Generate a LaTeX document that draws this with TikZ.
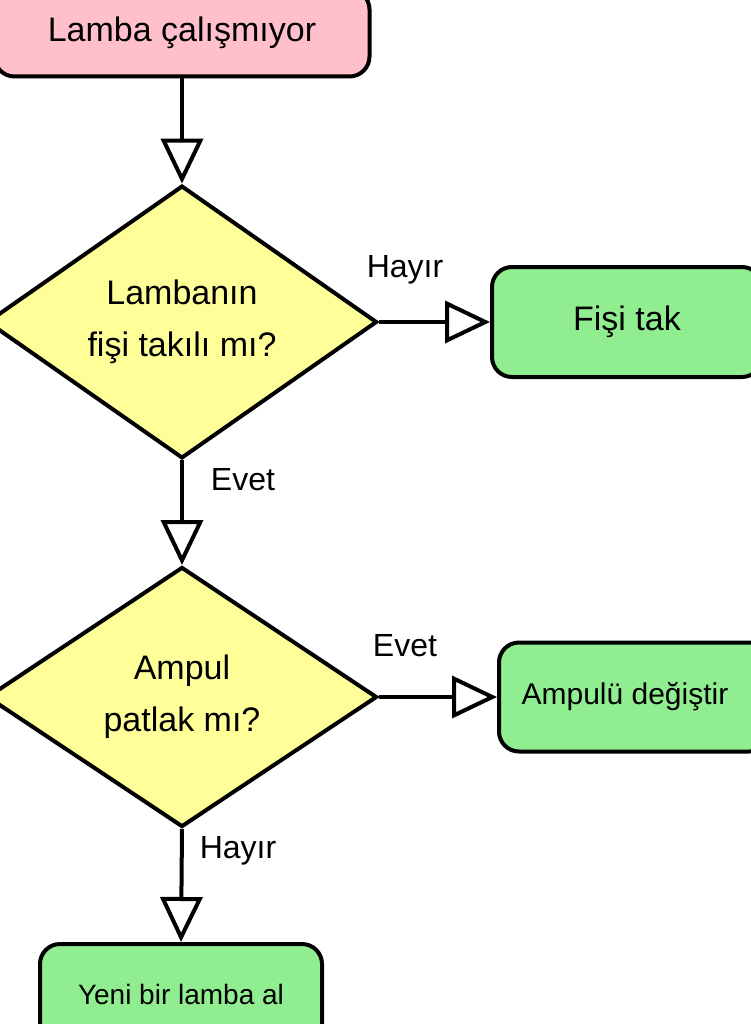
\documentclass[tikz,border=0pt]{standalone}
\usepackage{fontspec}
\setmainfont{Liberation Sans}
\usetikzlibrary{shapes.geometric,arrows.meta}
\definecolor{pinkf}{HTML}{FFC0CB}
\definecolor{greenf}{HTML}{90EE90}
\definecolor{yellowf}{HTML}{FFFF99}
\tikzset{
  box/.style={draw,line width=4pt,rounded corners=20pt,inner sep=0pt,font=\fontsize{34}{40}\selectfont},
  dec/.style={draw,shape=diamond,fill=yellowf,line width=4pt,minimum width=390pt,minimum height=260pt,inner sep=0pt,align=center,font=\fontsize{34}{52}\selectfont},
  conn/.style={line width=4pt,-{Triangle[open,length=45pt,width=42pt,line width=4pt]}},
  lab/.style={font=\fontsize{32}{36}\selectfont}
}
\begin{document}
\begin{tikzpicture}[x=1pt,y=-1pt]
\useasboundingbox (0,0) rectangle (750,1024);
\node[box,fill=pinkf,minimum width=375pt,minimum height=87pt] (start) at (182,33) {Lamba çalışmıyor};
\node[dec] (d1) at (182,322) {Lambanın\\fişi takılı mı?};
\node[dec] (d2) at (182,697) {Ampul\\patlak mı?};
\node[box,fill=greenf,minimum width=270pt,minimum height=110pt,anchor=west] (fis) at (490,322) {Fişi tak};
\node[box,fill=greenf,minimum width=270pt,minimum height=109pt,anchor=west,font=\fontsize{30}{36}\selectfont] (amp) at (497,697) {\hspace*{-18pt}Ampulü değiştir};
\node[box,fill=greenf,minimum width=282pt,minimum height=100pt,anchor=north,font=\fontsize{28}{34}\selectfont] (yeni) at (181,942) {Yeni bir lamba al};
\draw[conn] (start.south) -- (d1.north);
\draw[conn] (d1.east) -- (fis.west);
\draw[conn] (d1.south) -- (d2.north);
\draw[conn] (d2.east) -- (amp.west);
\draw[conn] (d2.south) -- (yeni.north);
\node[lab] at (405,270) {Hayır};
\node[lab] at (243,480) {Evet};
\node[lab] at (405,646) {Evet};
\node[lab] at (238,851) {Hayır};
\end{tikzpicture}
\end{document}
